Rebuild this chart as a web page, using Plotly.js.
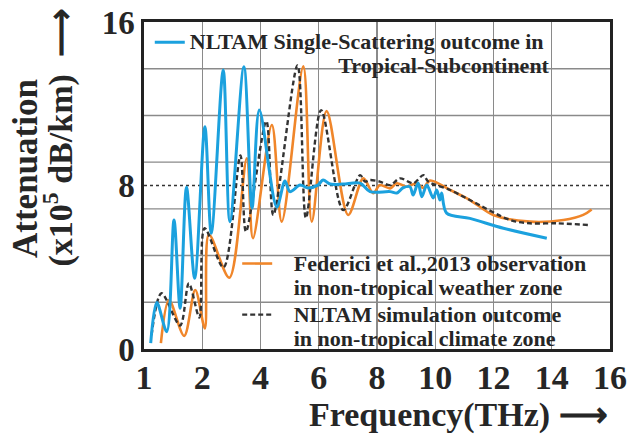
<!DOCTYPE html>
<html><head><meta charset="utf-8">
<script src="https://cdn.plot.ly/plotly-3.0.1.min.js"></script>
<style>html,body{margin:0;padding:0;background:#fff}</style>
</head><body>
<div id="chart" style="width:628px;height:435px"></div>
<script>
// Frequency axis ticks (THz) – non-uniform scale: 1,2 then every 2 THz equally spaced
const freqTicks = [1, 2, 4, 6, 8, 10, 12, 14, 16];
const freqTickLabels = ['1', '2', '4', '6', '8', '10', '12', '14', '16'];
const attenTicks = [0, 8, 16];
const attenTickLabels = ['0', '8', '16'];

// NLTAM single-scattering (tropical subcontinent)
const blueFreq = [1.115, 1.22, 1.39, 1.515, 1.62, 1.73, 1.87, 2.09, 2.31, 2.72, 2.95, 3.43, 3.71, 3.96, 4.56, 4.84, 5.01, 5.36, 5.63, 5.97, 6.15, 6.39, 6.83, 7.42, 7.76, 8.45, 8.68, 8.89, 9.13, 9.24, 9.41, 9.54, 9.71, 9.93, 10.05, 10.16, 10.22, 10.39, 11.19, 12.34, 13.83];
const blueAtten = [0.29, 2.27, 0.85, 6.31, 2.0, 7.91, 3.46, 10.88, 5.66, 13.65, 6.23, 13.81, 6.9, 11.69, 6.95, 8.22, 7.70, 8.02, 7.88, 8.02, 8.27, 8.07, 8.07, 8.12, 7.70, 7.70, 7.63, 7.88, 7.94, 7.53, 8.12, 7.45, 8.02, 7.39, 7.78, 7.29, 7.63, 6.65, 6.39, 5.91, 5.42];

// Federici et al., 2013 observation
const orangeFreq = [1.29, 1.43, 1.69, 1.88, 2.09, 2.23, 2.93, 3.53, 3.74, 4.39, 4.73, 5.47, 5.76, 6.27, 7.01, 7.53, 7.87, 8.10, 8.45, 8.68, 9.02, 9.36, 9.58, 9.82, 10.51, 11.19, 11.99, 13.25, 14.40, 15.08, 15.37];
const orangeAtten = [0.29, 2.40, 0.64, 2.89, 1.01, 5.6, 3.49, 9.33, 5.42, 10.96, 6.23, 13.83, 6.23, 11.64, 6.56, 8.35, 7.62, 8.02, 7.86, 8.11, 7.94, 8.11, 7.88, 8.24, 7.78, 7.29, 6.56, 6.23, 6.31, 6.56, 6.83];

// NLTAM simulation (non-tropical climate zone)
const blackFreq = [1.13, 1.30, 1.62, 1.77, 1.95, 2.08, 2.73, 3.31, 3.50, 4.20, 4.44, 5.27, 5.56, 6.08, 6.84, 7.42, 7.59, 7.76, 8.10, 8.45, 8.79, 9.25, 9.59, 9.76, 10.51, 11.19, 12.57, 13.25, 14.17, 15.24];
const blackAtten = [0.68, 2.73, 1.15, 3.21, 1.54, 5.91, 3.99, 9.47, 5.74, 11.15, 6.56, 13.87, 6.41, 11.69, 6.80, 8.51, 8.19, 8.27, 8.19, 8.02, 8.35, 8.11, 8.51, 8.19, 7.78, 7.29, 6.31, 6.15, 6.15, 6.07];

const blueName = ['NLTAM Single-Scattering outcome in', 'Tropical-Subcontinent'];
const orangeName = ['Federici et al.,2013 observation', 'in non-tropical weather zone'];
const blackName = ['NLTAM simulation outcome', 'in non-tropical climate zone'];

// piecewise frequency scale used by the figure's axis
function axisPos(f) { return f < 2 ? f - 1 : 1 + (f - 2) / 2; }

const FONT = 'Liberation Serif, Times New Roman, serif';
const TXT = '#262626';
const NB = '\u00a0';
const GRID = '#8a8a8a';
// seven equal horizontal grid divisions of the 0-16 range
const yGridVals = [1, 2, 3, 4, 5, 6].map(k => k * 16 / 7);

function legendText(lines, pads) {
  return lines.map((s, i) => '<span style="font-size:22px">' + NB.repeat(pads[i]) + s + '</span>').join('<br>');
}

const traces = [
  { x: orangeFreq.map(axisPos), y: orangeAtten, mode: 'lines', name: legendText(orangeName, [3, 3]),
    line: { color: '#F0862A', width: 2.6, shape: 'spline', smoothing: 0.9 }, legend: 'legend2' },
  { x: blackFreq.map(axisPos), y: blackAtten, mode: 'lines', name: legendText(blackName, [3, 3]),
    line: { color: '#333333', width: 2.4, dash: '5px,3px', shape: 'spline', smoothing: 0.9 }, legend: 'legend2' },
  { x: blueFreq.map(axisPos), y: blueAtten, mode: 'lines', name: legendText(blueName, [0, 27]),
    line: { color: '#1BA1DE', width: 3, shape: 'spline', smoothing: 0.9 }, legend: 'legend' }
];

const shapes = yGridVals.map(v => ({
  type: 'line', xref: 'paper', x0: 0, x1: 1, yref: 'y', y0: v, y1: v,
  line: { color: GRID, width: 1.4 }, layer: 'below'
}));
shapes.push({ type: 'line', xref: 'paper', x0: 0, x1: 1, yref: 'y', y0: 8, y1: 8,
  line: { color: '#333', width: 1.3, dash: 'dot' }, layer: 'below' });

const layout = {
  width: 628, height: 435,
  margin: { l: 144, r: 18, t: 22, b: 86 },
  paper_bgcolor: '#fff', plot_bgcolor: '#fff',
  font: { family: FONT, color: TXT, weight: 700 },
  xaxis: {
    range: [0, 8], tickmode: 'array', tickvals: freqTicks.map(axisPos), ticktext: freqTickLabels,
    showgrid: true, gridcolor: GRID, gridwidth: 1.4, zeroline: false,
    showline: true, linecolor: '#222', linewidth: 3, mirror: true, ticks: '',
    ticklabelstandoff: -4,
    tickfont: { family: FONT, size: 34, color: TXT, weight: 700 }
  },
  yaxis: {
    range: [0, 16], tickmode: 'array', tickvals: attenTicks, ticktext: attenTickLabels,
    showgrid: false, zeroline: false,
    showline: true, linecolor: '#222', linewidth: 2.6, mirror: true, ticks: '',
    tickfont: { family: FONT, size: 33, color: TXT, weight: 700 }
  },
  shapes: shapes,
  legend: {
    x: 0.0124, y: 0.994, xanchor: 'left', yanchor: 'top', bgcolor: 'rgba(0,0,0,0)',
    valign: 'top', font: { family: FONT, size: 18, color: TXT, weight: 700 }
  },
  legend2: {
    x: 0.2, y: 0.318, xanchor: 'left', yanchor: 'top', bgcolor: 'rgba(0,0,0,0)',
    valign: 'top', tracegroupgap: 0, font: { family: FONT, size: 18.5, color: TXT, weight: 700 }
  },
  annotations: [
    { text: 'Attenuation', xref: 'paper', yref: 'paper', x: -0.2554, y: 0.5535, textangle: -90,
      showarrow: false, xanchor: 'center', yanchor: 'middle',
      font: { family: FONT, size: 35, color: TXT, weight: 700 } },
    { text: '(x10<sup>5</sup> dB/km)' + NB + NB + '⟶', xref: 'paper', yref: 'paper', x: -0.1845, y: 0.6468, textangle: -90,
      showarrow: false, xanchor: 'center', yanchor: 'middle',
      font: { family: FONT, size: 34, color: TXT, weight: 700 } },
    { text: 'Frequency(THz)' + NB + '⟶', xref: 'paper', yref: 'paper', x: 1.0, y: -0.203,
      showarrow: false, xanchor: 'right', yanchor: 'middle',
      font: { family: FONT, size: 34, color: TXT, weight: 700 } }
  ],
  showlegend: true
};

Plotly.newPlot('chart', traces, layout, { displayModeBar: false, staticPlot: true });
</script>
</body></html>
